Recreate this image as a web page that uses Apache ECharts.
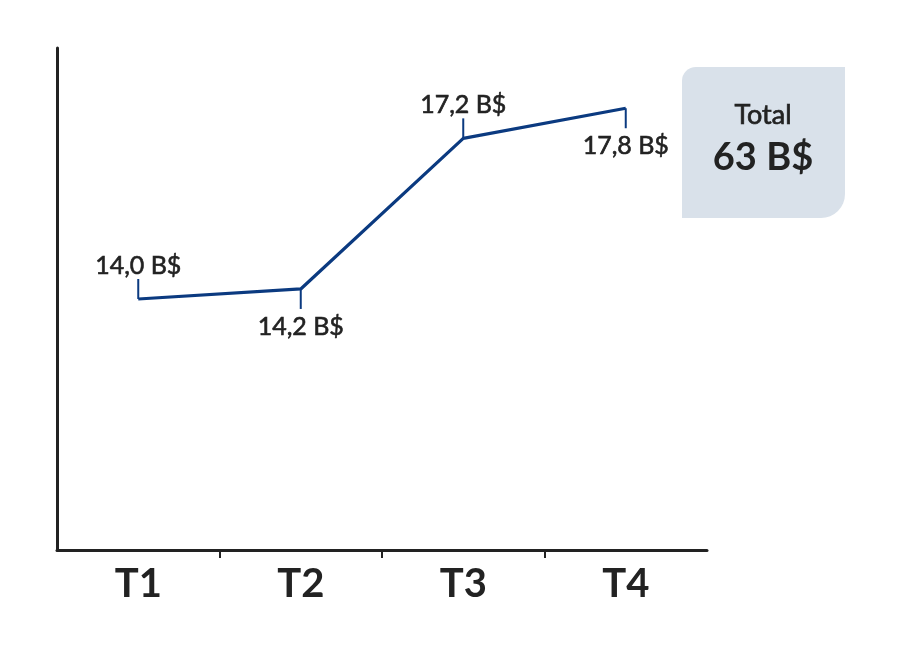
<!DOCTYPE html>
<html>
<head>
<meta charset="utf-8">
<script src="https://cdn.jsdelivr.net/npm/echarts@6/dist/echarts.min.js"></script>
<style>
html,body{margin:0;padding:0;background:#fff;}
#chart{width:900px;height:649px;}
</style>
</head>
<body>
<div id="chart"></div>
<script>
var categories = ['T1', 'T2', 'T3', 'T4'];
var values = [14.0, 14.2, 17.2, 17.8];
var labelSide = ['top', 'bottom', 'top', 'bottom'];
var boundaries = ['', '', '', '', ''];
var totalTitle = 'Total';
var totalValue = '63 B$';

function fmt(v) { return v.toFixed(1).replace('.', ',') + ' B$'; }

var navy = '#0b3a80';
var ink = '#222222';

var seriesData = values.map(function (v, i) {
  var up = labelSide[i] === 'top';
  return {
    value: v,
    symbolOffset: [0, up ? -10 : 10],
    label: { position: labelSide[i], distance: up ? 1 : 5 }
  };
});

var chart = echarts.init(document.getElementById('chart'));
chart.setOption({
  animation: false,
  backgroundColor: '#ffffff',
  grid: { left: 57, right: 193, top: 48, bottom: 99 },
  xAxis: [{
    type: 'category',
    data: categories,
    boundaryGap: true,
    axisLine: { lineStyle: { color: ink, width: 3 } },
    axisTick: { show: false },
    axisLabel: {
      margin: 14, fontFamily: 'Lato', fontWeight: 'bold', fontSize: 40, color: ink
    }
  }, {
    type: 'category',
    data: boundaries,
    boundaryGap: false,
    position: 'bottom',
    axisLine: { show: false },
    axisLabel: { show: false },
    axisTick: {
      show: true, length: 8, lineStyle: { color: ink, width: 2 },
      interval: function (index) { return index > 0 && index < boundaries.length - 1; }
    }
  }],
  yAxis: {
    type: 'value', min: 9, max: 19,
    axisLine: { show: true, lineStyle: { color: ink, width: 3 } },
    axisTick: { show: false },
    axisLabel: { show: false },
    splitLine: { show: false }
  },
  series: [{
    type: 'line',
    xAxisIndex: 0,
    data: seriesData,
    symbol: 'rect',
    symbolSize: [2, 20],
    itemStyle: { color: navy },
    lineStyle: { color: navy, width: 3.2 },
    label: {
      show: true,
      fontFamily: 'Lato', fontSize: 25, color: ink,
      textBorderColor: ink, textBorderWidth: 0.6,
      formatter: function (p) { return fmt(p.value); }
    }
  }],
  graphic: [
    {
      type: 'rect',
      shape: { x: 682, y: 67, width: 163, height: 151, r: [14, 0, 24, 0] },
      style: { fill: '#d9e1ea' }
    },
    {
      type: 'text',
      x: 763, y: 115,
      style: { text: totalTitle, fontFamily: 'Lato', fontSize: 27, fill: ink, stroke: ink, lineWidth: 0.7, align: 'center', verticalAlign: 'middle' }
    },
    {
      type: 'text',
      x: 763, y: 158,
      style: { text: totalValue, fontFamily: 'Lato', fontSize: 38, fontWeight: 'bold', fill: ink, align: 'center', verticalAlign: 'middle' }
    }
  ]
});
</script>
</body>
</html>
